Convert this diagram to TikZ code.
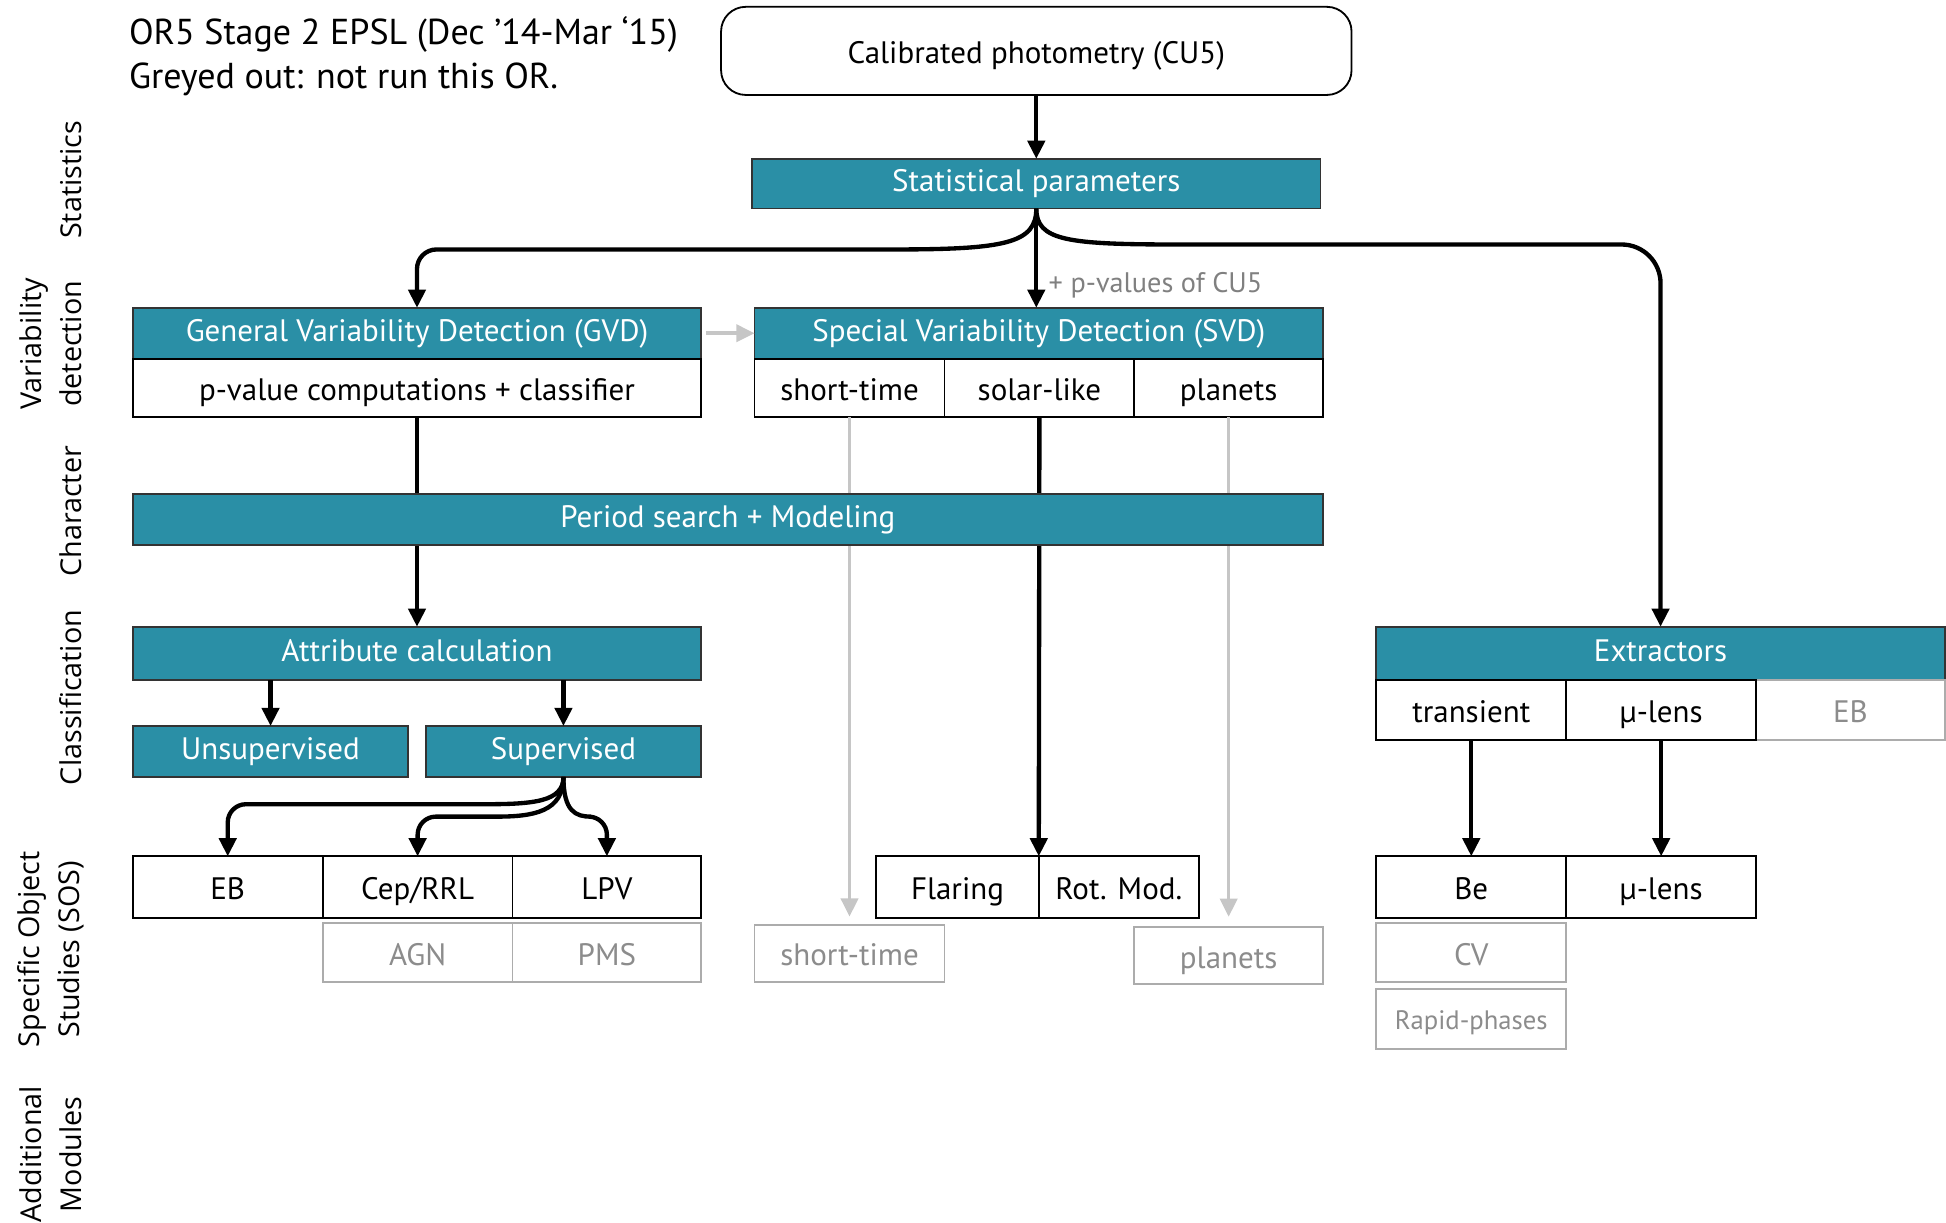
\documentclass[tikz,border=0pt]{standalone}
\usepackage{fontspec}
\setmainfont{PT Sans}
\newfontfamily\rowfont{Open Sans}
\usetikzlibrary{arrows.meta}
\definecolor{boxteal}{RGB}{42,143,166}
\newcommand{\pxu}{0.01913cm}
\tikzset{
  every node/.style = {inner sep=0pt,outer sep=0pt},
  basebox/.style    = {rectangle,line width=0.8pt,font=\fontsize{13.6}{16}\selectfont,
                       text height=9.6pt,text depth=2.6pt},
  tealbox/.style    = {basebox,fill=boxteal,draw=black!80,text=white},
  cellbox/.style    = {basebox,fill=white,draw=black,text height=13.6pt},
  greybox/.style    = {basebox,fill=white,draw=gray!65,text=gray!90,text height=13.6pt},
  rowlabel/.style   = {rotate=90,align=center,font=\rowfont\fontsize{12.6}{17.5}\selectfont},
  flowarr/.style    = {-{Triangle[length=8pt,width=7.5pt]},line width=1.9pt},
  greyarr/.style    = {-{Triangle[length=8pt,width=7.5pt]},line width=1.6pt,gray!45}
}
% box from (x1,y1) to (x2,y2), picture pixels
\newcommand{\flowbox}[7]{%
  \node[#2,minimum width={(#5-#3)*\pxu},minimum height={(#6-#4)*\pxu}]
    (#1) at ({(#3+#5)/2},{(#4+#6)/2}) {#7};}

\begin{document}
\begin{tikzpicture}[x=\pxu,y=-\pxu]
  \useasboundingbox (0,0) rectangle (1568,985);

  % row labels
  \node[rowlabel] (lstat)  at (57,145)  {Statistics};
  \node[rowlabel] (lvar)   at (41,277)  {Variability\\detection};
  \node[rowlabel] (lchar)  at (57,412)  {Character};
  \node[rowlabel] (lclass) at (57,562)  {Classification};
  \node[rowlabel] (lsos)   at (41,765)  {Specific Object\\Studies (SOS)};
  \node[rowlabel] (ladd)   at (41,930)  {Additional\\Modules};

  \node[anchor=north west,align=left,font=\fontsize{15.8}{19.6}\selectfont] (title) at (104,13)
    {OR5 Stage 2 EPSL (Dec ’14-Mar ‘15)\\Greyed out: not run this OR.};

  % top
  \node[cellbox,rounded corners=0.38cm,minimum width=508*\pxu,minimum height=71*\pxu]
    (calib) at (835,41) {Calibrated photometry (CU5)};
  \flowbox{stat}{tealbox}{606}{128}{1064}{168}{Statistical parameters}

  % variability detection
  \flowbox{gvd}{tealbox}{107}{248}{565}{289}{General Variability Detection (GVD)}
  \flowbox{gvdsub}{cellbox}{107}{289}{565}{336}{p-value computations + classifier}
  \flowbox{svd}{tealbox}{608}{248}{1066}{289}{Special Variability Detection (SVD)}
  \flowbox{st}{cellbox}{608}{289}{761}{336}{short-time}
  \flowbox{sl}{cellbox}{761}{289}{914}{336}{solar-like}
  \flowbox{pl}{cellbox}{914}{289}{1066}{336}{planets}
  \node[anchor=west,text=gray,font=\fontsize{12.4}{14}\selectfont] (pval) at (845,230) {+ p-values of CU5};

  % classification
  \flowbox{attr}{tealbox}{107}{505}{565}{548}{Attribute calculation}
  \flowbox{unsup}{tealbox}{107}{585}{329}{626}{Unsupervised}
  \flowbox{sup}{tealbox}{343}{585}{565}{626}{Supervised}

  % SOS
  \flowbox{eb}{cellbox}{107}{690}{260}{740}{EB}
  \flowbox{cep}{cellbox}{260}{690}{413}{740}{Cep/RRL}
  \flowbox{lpv}{cellbox}{413}{690}{565}{740}{LPV}
  \flowbox{agn}{greybox}{260}{744}{413}{791}{AGN}
  \flowbox{pms}{greybox}{413}{744}{565}{791}{PMS}
  \flowbox{flar}{cellbox}{706}{690}{837}{740}{Flaring}
  \flowbox{rot}{cellbox}{837}{690}{966}{740}{Rot. Mod.}
  \flowbox{gst}{greybox}{608}{745}{761}{791}{short-time}
  \flowbox{gpl}{greybox}{914}{747}{1066}{793}{planets}

  % extractors
  \flowbox{ext}{tealbox}{1109}{505}{1567}{548}{Extractors}
  \flowbox{ebx}{greybox}{1415}{548}{1567}{596}{EB}
  \flowbox{tr}{cellbox}{1109}{548}{1262}{596}{transient}
  \flowbox{mu}{cellbox}{1262}{548}{1415}{596}{µ-lens}
  \flowbox{be}{cellbox}{1109}{690}{1262}{740}{Be}
  \flowbox{mus}{cellbox}{1262}{690}{1415}{740}{µ-lens}
  \flowbox{cv}{greybox}{1109}{744}{1262}{791}{CV}
  \node[greybox,font=\fontsize{11.7}{14}\selectfont,text height=12pt,
        minimum width=153*\pxu,minimum height=48*\pxu]
    (rapid) at (1185.5,821) {Rapid-phases};

  % connectors behind the period box
  \draw[greyarr,shorten >=3.5pt] (st.south) -- (gst.north);
  \draw[greyarr,shorten >=4.5pt] (pl.south) -- (gpl.north);
  \draw[flowarr] (sl.south) -- (flar.north east);
  \draw[flowarr] (gvdsub.south) -- (attr.north);
  \flowbox{period}{tealbox}{107}{398}{1066}{439}{Period search + Modeling}

  \draw[flowarr] (calib.south) -- (stat.north);
  \draw[flowarr] (stat.south) .. controls +(0,28) and +(90,0) .. (720,201)
    [rounded corners=0.3cm] -- (gvd.north |- 0,201) -- (gvd.north);
  \draw[flowarr] (stat.south) -- (stat.south |- svd.north);
  \draw[flowarr] (stat.south) .. controls +(0,26) and +(-90,0) .. (950,197)
    [rounded corners=0.6cm] -- (ext.north |- 0,197) -- (ext.north);
  \draw[greyarr] ([xshift=2pt]gvd.east) -- (svd.west);

  \draw[flowarr] (unsup.north |- attr.south) -- (unsup.north);
  \draw[flowarr] (sup.north |- attr.south) -- (sup.north);
  \draw[flowarr] (sup.south) .. controls +(0,20) and +(40,0) .. (390,648)
    [rounded corners=0.28cm] -- (eb.north |- 0,648) -- (eb.north);
  \draw[flowarr] (sup.south) .. controls +(0,28) and +(30,0) .. (400,658)
    [rounded corners=0.28cm] -- (cep.north |- 0,658) -- (cep.north);
  \draw[flowarr] (sup.south) .. controls +(0,28) and +(-12,0) .. (476,658)
    [rounded corners=0.28cm] -- (lpv.north |- 0,658) -- (lpv.north);

  \draw[flowarr] (tr.south) -- (be.north);
  \draw[flowarr] (mu.south) -- (mus.north);
\end{tikzpicture}
\end{document}
